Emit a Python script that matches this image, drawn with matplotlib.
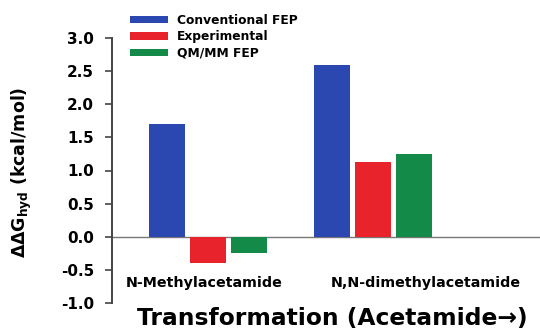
import numpy as np
import matplotlib
matplotlib.use("Agg")
import matplotlib.pyplot as plt

plt.rcParams['font.family'] = ['DejaVu Sans']
plt.rcParams['font.weight'] = 'bold'
plt.rcParams['mathtext.default'] = 'bf'

# ===== dati =====
groups = ['N-Methylacetamide', 'N,N-dimethylacetamide']
series = ['Conventional FEP', 'Experimental', 'QM/MM FEP']
conv_fep = [1.70, 2.60]
experimental = [-0.40, 1.13]
qmmm_fep = [-0.25, 1.25]
colors = ['#2a48b0', '#e8232b', '#138a47']
yticks = [-1.0, -0.5, 0.0, 0.5, 1.0, 1.5, 2.0, 2.5, 3.0]

fig = plt.figure(figsize=(5.4, 3.34), dpi=100)
ax = fig.add_axes([112/540, 1 - 303/334, 1 - 112/540, (303 - 38)/334])

# ===== barre =====
x = np.arange(len(groups))
w = 0.22
off = 0.248
for k, (vals, lab) in enumerate(zip([conv_fep, experimental, qmmm_fep], series)):
    ax.bar(x + (k - 1) * off, vals, width=w, color=colors[k], label=lab, zorder=2)

ax.axhline(0, color='#777777', lw=1.0, zorder=1)

# ===== assi =====
ax.set_xlim(-0.58, 2.01)
ax.set_ylim(-1.0, 3.0)
ax.set_yticks(yticks)
ax.set_yticklabels(['%.1f' % v for v in yticks], fontsize=11, fontweight='bold')
ax.set_xticks([])
for s in ['top', 'right', 'bottom']:
    ax.spines[s].set_visible(False)
ax.spines['left'].set_color('#444444')
ax.spines['left'].set_linewidth(1.4)
ax.tick_params(axis='y', direction='out', length=5, width=1.2, color='#444444', pad=8)

# etichette categorie
ax.text(-0.02, -0.70, groups[0], ha='center', va='center', fontsize=10.3, fontweight='bold')
ax.text(1.32, -0.70, groups[1], ha='center', va='center', fontsize=10.3, fontweight='bold')

fig.text(22/540, 1 - 172/334, r'ΔΔG$_{hyd}$ (kcal/mol)', rotation=90, ha='center', va='center',
         fontsize=12.5, fontweight='bold')
fig.text(332/540, 1 - 318/334, 'Transformation (Acetamide→)', ha='center', va='center',
         fontsize=16.8, fontweight='bold')

ax.legend(loc='upper left', bbox_to_anchor=(130/540, 1 - 14/334),
          bbox_transform=fig.transFigure, frameon=False, borderpad=0, borderaxespad=0,
          handlelength=3.1, handleheight=0.55, handletextpad=0.75,
          labelspacing=0.28, prop={'weight': 'bold', 'size': 8.8})

fig.savefig('out.png', dpi=100)
